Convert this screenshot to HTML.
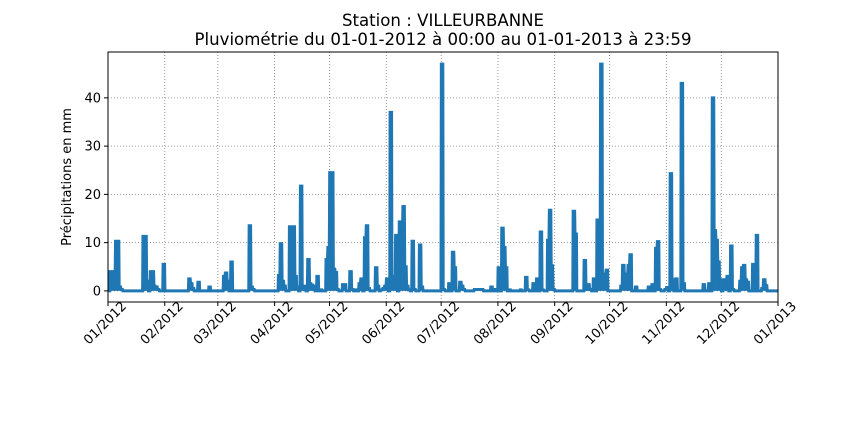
<!DOCTYPE html>
<html><head><meta charset="utf-8"><style>
body{margin:0;background:#fff;}
svg text{font-family:"DejaVu Sans","Liberation Sans",sans-serif;fill:#000;}
</style></head><body>
<svg width="864" height="432" xmlns="http://www.w3.org/2000/svg">
<text x="443" y="26" font-size="16.6" text-anchor="middle">Station : VILLEURBANNE</text>
<text x="443" y="45" font-size="16.6" text-anchor="middle">Pluviométrie du 01-01-2012 à 00:00 au 01-01-2013 à 23:59</text>
<g id="grid"></g>
<g id="series"></g>
<rect x="108" y="52" width="670" height="250" fill="none" stroke="#000" stroke-width="1"/>
<g id="axes"></g>
<text transform="translate(71,177) rotate(-90)" font-size="13" text-anchor="middle">Précipitations en mm</text>
</svg>
<script>
const eventDays = [1,2,3,4,5,6,7,19,20,21,23,24,25,26,27,30,44,45,46,49,55,63,64,65,67,77,78,79,93,94,95,96,99,100,101,102,103,105,106,107,109,110,111,112,114,116,119,120,121,122,123,124,125,128,129,132,133,135,137,138,140,141,142,146,147,149,150,151,152,154,155,156,157,159,160,161,162,163,164,166,167,170,171,182,183,186,188,189,192,193,194,200,201,202,203,204,209,211,213,215,216,217,219,225,228,229,232,234,236,237,240,241,242,243,254,255,260,261,262,263,265,267,268,269,270,271,272,280,281,282,283,284,285,288,295,297,299,300,301,304,305,307,308,310,313,314,325,328,330,331,332,333,334,336,337,338,340,341,345,346,347,348,349,352,354,357,358,359];
const eventValues = [4,4,3,10.3,10.3,0.8,0.3,11.3,11.3,2,4,4,1,0.8,0.3,5.5,2.5,1.5,0.5,1.8,0.8,3,3.7,2,6,13.5,0.8,0.3,3.2,9.8,2,1,13.3,13.3,13.3,3,0.8,21.7,1,1,6.5,1.5,1.2,1,3,0.2,6.5,9,24.5,24.5,4.5,3.8,0.3,1.3,1.3,4,0.3,0.2,1.5,2.5,11,13.5,0.5,4.8,1,0.2,0.5,1,2.5,37,0.5,3,11.5,14.3,13,17.5,5,1,0.2,10.3,0.3,9.5,0.8,47,0.3,1.5,8,4.8,1.8,1,0.3,0.3,0.3,0.3,0.3,0.3,0.8,0.3,4.8,13,9,4.8,0.2,0.2,2.8,0.2,1.5,2.5,12.2,0.2,10.5,16.7,5.2,0.3,16.5,11.8,6.3,0.3,1.3,0.3,2.5,14.7,14.7,47,2,3.5,4.3,1,5.3,2.5,3.5,5.3,7.5,0.8,0.8,1.3,8.8,10.2,0.3,0.3,0.7,24.3,2.3,2.5,43,1.5,1.3,1.5,40,12.5,10.5,6,2.3,2.3,2.3,3,9.3,0.3,2,4.8,5.3,2.3,1.8,5.5,11.5,0.5,2.3,1.1];
const yTicks = [0,10,20,30,40];
const xTickLabels = ["01/2012","02/2012","03/2012","04/2012","05/2012","06/2012","07/2012","08/2012","09/2012","10/2012","11/2012","12/2012","01/2013"];
const xTickDays = [0,31,60,91,121,152,182,213,244,274,305,335,366];
const NS="http://www.w3.org/2000/svg";
const X0=108,X1=778,Y0=52,Y1=302,DMAX=366,VMIN=-2.3,VMAX=49.5;
const sx=d=>X0+(d/DMAX)*(X1-X0);
const sy=v=>Y1-(v-VMIN)/(VMAX-VMIN)*(Y1-Y0);
const grid=document.getElementById('grid'),axes=document.getElementById('axes'),series=document.getElementById('series');
function mk(t,a,p){const e=document.createElementNS(NS,t);for(const k in a)e.setAttribute(k,a[k]);p.appendChild(e);return e;}
yTicks.forEach(v=>{
  const y=sy(v);
  const g=mk('line',{x1:X0,x2:X1,y1:y,y2:y,stroke:'#808080','stroke-width':0.8,'stroke-dasharray':'1,2'},grid);
  
  
  mk('line',{x1:X0-4,x2:X0,y1:y,y2:y,stroke:'#000'},axes);
  const t=mk('text',{x:X0-7,y:y+4.5,'font-size':13,'text-anchor':'end'},axes);
  t.textContent=v;
  
  
});
xTickDays.forEach((d,i)=>{
  const x=sx(d);
  const g=mk('line',{x1:x,x2:x,y1:Y0,y2:Y1,stroke:'#808080','stroke-width':0.8,'stroke-dasharray':'1,2'},grid);
  
  
  mk('line',{x1:x,x2:x,y1:Y1,y2:Y1+4,stroke:'#000'},axes);
  const t=mk('text',{x:0,y:0,'font-size':13,'text-anchor':'middle',transform:`translate(${x},${Y1+24}) rotate(-45)`},axes);
  t.textContent=xTickLabels[i];
  
  
});
const vals=new Array(DMAX).fill(0);
eventDays.forEach((d,i)=>{vals[d]=eventValues[i];});
let pts=[];
for(let d=0;d<DMAX;d++){
  const y=sy(vals[d]).toFixed(2);
  pts.push(sx(d+0.1).toFixed(2)+','+y);
  pts.push(sx(d+0.9).toFixed(2)+','+y);
}
const base=sy(0).toFixed(2);
const area=mk('polygon',{points:sx(0.1).toFixed(2)+','+base+' '+pts.join(' ')+' '+sx(DMAX-0.1).toFixed(2)+','+base,fill:'#1f77b4',stroke:'none'},series);


const pl=mk('polyline',{points:pts.join(' '),fill:'none',stroke:'#1f77b4','stroke-width':3,'stroke-linejoin':'miter'},series);


</script>
</body></html>
